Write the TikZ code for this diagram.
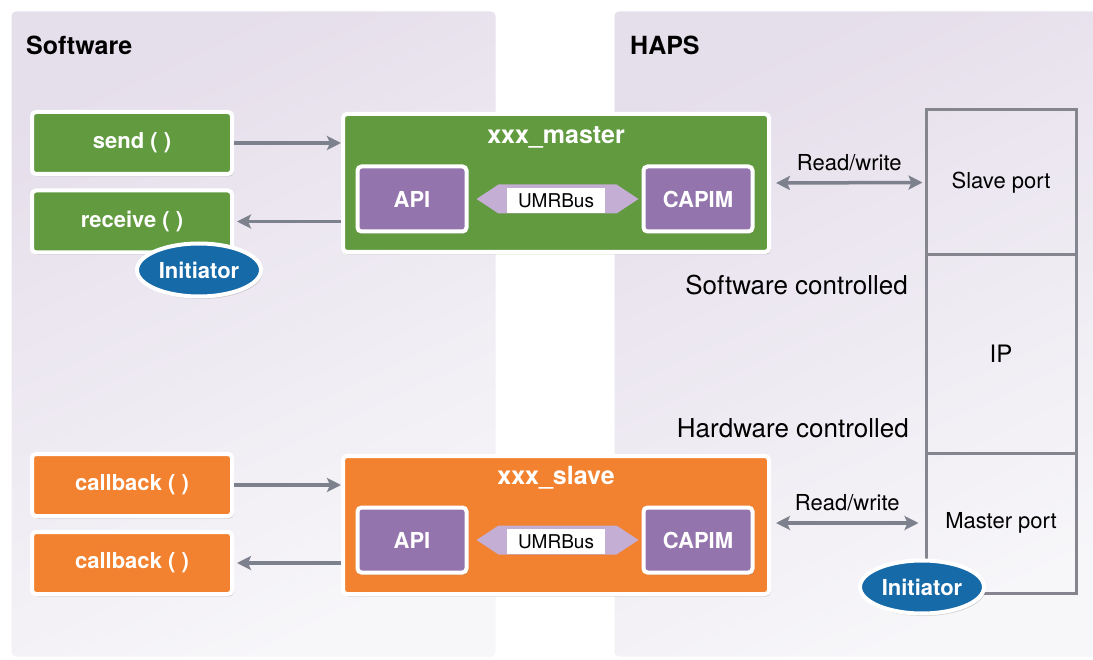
\documentclass[tikz,border=0pt]{standalone}
\usepackage{fontspec}
\setmainfont{TeX Gyre Heros}
\usetikzlibrary{shadows,arrows.meta,shapes.geometric,calc}
\definecolor{cgreen}{HTML}{629A40}
\definecolor{corange}{HTML}{F28230}
\definecolor{cpurple}{HTML}{9474AC}
\definecolor{cumr}{HTML}{C4AED4}
\definecolor{cblue}{HTML}{166AA8}
\definecolor{cgray}{HTML}{7D808D}
\definecolor{cstack}{HTML}{85858F}
\definecolor{ptop}{HTML}{E5DEEB}
\definecolor{pbot}{HTML}{F7F6F9}
\begin{document}
\begin{tikzpicture}[x=1pt,y=-1pt,
  panel/.style={draw=white, line width=3, rounded corners=6, top color=ptop, bottom color=pbot, shading angle=25,
    drop shadow={opacity=0.12, shadow xshift=0pt, shadow yshift=-1pt}, inner sep=0},
  ptitle/.style={font=\fontsize{25}{30}\selectfont\bfseries, text=black, anchor=west, inner sep=0},
  fbox/.style={draw=white, line width=4, rounded corners=4, minimum width=200, minimum height=62,
    text=white, font=\fontsize{22}{26}\selectfont\bfseries, inner sep=0,
    drop shadow={opacity=0.3, shadow xshift=1.5pt, shadow yshift=-2.5pt}},
  bigbox/.style={draw=white, line width=4, rounded corners=4, minimum width=426, minimum height=138,
    inner sep=0, drop shadow={opacity=0.3, shadow xshift=1.5pt, shadow yshift=-2.5pt}},
  btitle/.style={font=\fontsize{25}{30}\selectfont\bfseries, text=white, inner sep=0},
  pbox/.style={draw=white, line width=4, rounded corners=4, fill=cpurple, minimum width=109, minimum height=65,
    text=white, font=\fontsize{22}{26}\selectfont\bfseries, inner sep=0,
    drop shadow={opacity=0.3, shadow xshift=1.5pt, shadow yshift=-2.5pt}},
  umrlabel/.style={fill=white, minimum width=98, minimum height=25, inner sep=0,
    font=\fontsize{19}{22}\selectfont, text=black},
  umrhex/.style={fill=cumr},
  conn/.style={draw=cgray, line width=3.5, -{Stealth[length=14pt,width=14pt,inset=3pt]}},
  dconn/.style={draw=cgray, line width=3.5, {Stealth[length=14pt,width=14pt,inset=3pt]}-{Stealth[length=14pt,width=14pt,inset=3pt]}},
  rwlabel/.style={font=\fontsize{22}{26}\selectfont, text=black, inner sep=0},
  stackbox/.style={draw=cstack, line width=3, minimum width=150, inner sep=0,
    font=\fontsize{22}{26}\selectfont, text=black},
  ctext/.style={font=\fontsize{26}{30}\selectfont, text=black, anchor=east, inner sep=0},
  initiator/.style={ellipse, draw=white, line width=4, fill=cblue, minimum width=124, minimum height=53,
    inner sep=0, text=white, font=\fontsize{22}{26}\selectfont\bfseries,
    drop shadow={opacity=0.3, shadow xshift=1.5pt, shadow yshift=-2.5pt}}
]
\useasboundingbox (0,0) rectangle (1093,660);
\fill[white] (0,0) rectangle (1093,660);

% panels
\node[panel, minimum width=487, minimum height=648] (swpanel) at (253.5,334) {};
\node[panel, minimum width=490, minimum height=648] (hwpanel) at (858,334) {};
\node[ptitle] (swtitle) at (26,45) {Software};
\node[ptitle] (hwtitle) at (630,45) {HAPS};

% master section
\node[fbox, fill=cgreen] (send) at (132,143) {send ( )};
\node[fbox, fill=cgreen] (receive) at (132,221.5) {receive ( )};
\node[bigbox, fill=cgreen] (master) at (556,183) {};
\node[btitle] (mtitle) at (556,137) {xxx\_master};
\node[pbox] (mapi) at (412,199) {API};
\node[pbox] (mcapim) at (698,199) {CAPIM};
\fill[umrhex] ($(mapi.east)+(8,0)$) -- ++(22,-14.5) -- ++(118,0) -- ++(22,14.5)
  -- ++(-22,14.5) -- ++(-118,0) -- cycle;
\node[umrlabel] (mumr) at (556,200.5) {UMRBus};
\node[initiator] (init1) at (199,270) {Initiator};

\draw[conn] (send.east) -- (send.east -| master.west);
\draw[conn] (receive.east -| master.west) -- ([xshift=3]receive.east);

% slave section
\node[fbox, fill=corange] (cb1) at (132,485) {callback ( )};
\node[fbox, fill=corange] (cb2) at (132,563) {callback ( )};
\node[bigbox, fill=corange] (slave) at (556,525) {};
\node[btitle] (stitle) at (556,478) {xxx\_slave};
\node[pbox] (sapi) at (412,540) {API};
\node[pbox] (scapim) at (698,540) {CAPIM};
\fill[umrhex] ($(sapi.east)+(8,0)$) -- ++(22,-14.5) -- ++(118,0) -- ++(22,14.5)
  -- ++(-22,14.5) -- ++(-118,0) -- cycle;
\node[umrlabel] (sumr) at (556,541.5) {UMRBus};

\draw[conn] (cb1.east) -- (cb1.east -| slave.west);
\draw[conn] (cb2.east -| slave.west) -- ([xshift=3]cb2.east);

% HAPS stack
\node[stackbox, minimum height=145] (sport) at (1001,182.5) {Slave port};
\node[stackbox, minimum height=198] (ip) at (1001,354) {\fontsize{24}{28}\selectfont IP};
\node[stackbox, minimum height=140] (mport) at (1001,523) {Master port};

\draw[dconn] ([xshift=5]master.east) -- ([xshift=-2]sport.west)
  node[midway, above=10pt, rwlabel] (rw1) {Read/write};
\draw[dconn] ([xshift=5]slave.east |- mport.west) -- ([xshift=-6]mport.west)
  node[midway, above=10pt, rwlabel] (rw2) {Read/write};

\node[ctext] (swc) at (908,285) {Software controlled};
\node[ctext] (hwc) at (909,428) {Hardware controlled};

\node[initiator] (init2) at (922,587) {Initiator};
\end{tikzpicture}
\end{document}
